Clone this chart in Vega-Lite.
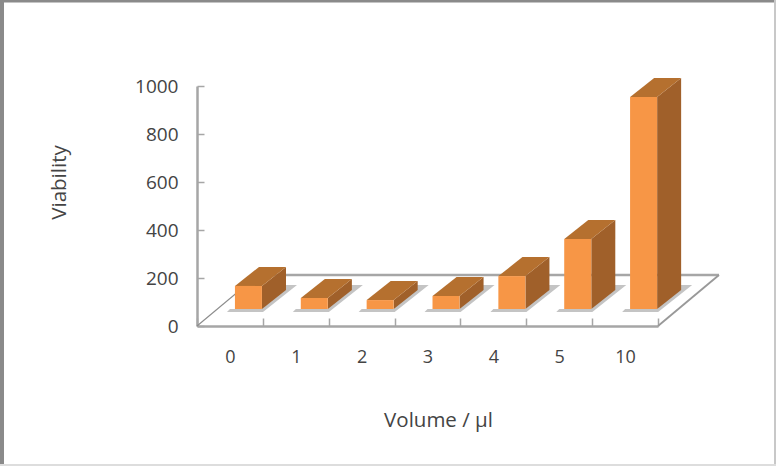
{
"$schema":"https://vega.github.io/schema/vega-lite/v6.json",
"width":461,"height":240,
"autosize":{"type":"none"},
"padding":{"left":197,"top":86,"right":118,"bottom":140},
"background":"white",
"config":{"view":{"stroke":null},"axis":{"grid":false}},
"datasets":{"bars":[
{"volume":"0","slot":0,"viability":167},
{"volume":"1","slot":1,"viability":117},
{"volume":"2","slot":2,"viability":108},
{"volume":"3","slot":3,"viability":125},
{"volume":"4","slot":4,"viability":208},
{"volume":"5","slot":5,"viability":362},
{"volume":"10","slot":6,"viability":954}
]},
"layer":[
{"data":{"values":[
{"edge":"back","slot":0.926,"level":212.5,"ord":0},
{"edge":"back","slot":7.926,"level":212.5,"ord":1},
{"edge":"right","slot":7.926,"level":212.5,"ord":0},
{"edge":"right","slot":7,"level":0,"ord":1},
{"edge":"left","slot":0.926,"level":212.5,"ord":0},
{"edge":"left","slot":0,"level":0,"ord":1}
]},
"mark":{"type":"line","clip":false},
"encoding":{
"x":{"field":"slot","type":"quantitative","scale":{"domain":[0,7],"nice":false,"zero":false},"axis":null},
"y":{"field":"level","type":"quantitative","scale":{"domain":[0,1000],"nice":false},"axis":{"title":"Viability","format":"d","titleFont":"Open Sans","titleFontSize":20.5,"titleFontWeight":"normal","titleColor":"#444444","titleX":-128,"titleY":96,"labelFont":"Open Sans","labelFontSize":19,"labelColor":"#444444","values":[0,200,400,600,800,1000],"tickSize":-7,"labelPadding":26,"tickColor":"#a6a6a6","tickWidth":1.5,"domainColor":"#a6a6a6","domainWidth":2.5,"labelFlush":false}},
"detail":{"field":"edge"},
"order":{"field":"ord","type":"quantitative"},
"size":{"field":"edge","type":"nominal","scale":{"domain":["back","right","left"],"range":[2.5,1.2,1.2]},"legend":null},
"color":{"field":"edge","type":"nominal","scale":{"domain":["back","right","left"],"range":["#a6a6a6","#999999","#8c8c8c"]},"legend":null}
}},
{"data":{"name":"bars"},
"transform":[
{"calculate":"[[-8,-3,0,0],[28,-3,0,1],[62,24,0,2],[45,24,0,3],[27,0,0,4],[-5,0,0,5],[-8,-3,0,6]]","as":"p"},
{"flatten":["p"]},
{"calculate":"datum.slot+(38+datum.p[0])/65.86","as":"xv"},
{"calculate":"70.8+datum.p[1]/0.24","as":"yv"},
{"calculate":"datum.p[3]","as":"ord"}
],
"mark":{"type":"line","fill":"#c4c4c4","stroke":null,"clip":false},
"encoding":{
"x":{"field":"xv","type":"quantitative","scale":{"domain":[0,7],"nice":false,"zero":false},"axis":null},
"y":{"field":"yv","type":"quantitative"},
"detail":{"field":"volume"},
"order":{"field":"ord","type":"quantitative"}
}},
{"data":{"name":"bars"},
"transform":[
{"calculate":"[[27,0,0,0],[51,19,0,1],[51,19,1,2],[27,0,1,3],[27,0,0,4]]","as":"p"},
{"flatten":["p"]},
{"calculate":"datum.slot+(38+datum.p[0])/65.86","as":"xv"},
{"calculate":"(datum.p[2]?datum.viability:70.8)+datum.p[1]/0.24","as":"yv"},
{"calculate":"datum.p[3]","as":"ord"}
],
"mark":{"type":"line","fill":"#a0602a","stroke":null,"clip":false},
"encoding":{
"x":{"field":"xv","type":"quantitative","scale":{"domain":[0,7],"nice":false,"zero":false},"axis":null},
"y":{"field":"yv","type":"quantitative"},
"detail":{"field":"volume"},
"order":{"field":"ord","type":"quantitative"}
}},
{"data":{"name":"bars"},
"transform":[
{"calculate":"[[0,0,1,0],[27,0,1,1],[51,19,1,2],[24,19,1,3],[0,0,1,4]]","as":"p"},
{"flatten":["p"]},
{"calculate":"datum.slot+(38+datum.p[0])/65.86","as":"xv"},
{"calculate":"datum.viability+datum.p[1]/0.24","as":"yv"},
{"calculate":"datum.p[3]","as":"ord"}
],
"mark":{"type":"line","fill":"#b5702f","stroke":null,"clip":false},
"encoding":{
"x":{"field":"xv","type":"quantitative","scale":{"domain":[0,7],"nice":false,"zero":false},"axis":null},
"y":{"field":"yv","type":"quantitative"},
"detail":{"field":"volume"},
"order":{"field":"ord","type":"quantitative"}
}},
{"data":{"name":"bars"},
"mark":{"type":"bar","width":27,"xOffset":18.5,"color":"#f79646","clip":false},
"encoding":{
"x":{"field":"volume","type":"ordinal","sort":["0","1","2","3","4","5","10"],"scale":{"type":"band","paddingInner":0,"paddingOuter":0},"axis":{"title":"Volume / µl","titleFont":"Open Sans","titleFontSize":20.5,"titleFontWeight":"normal","titleColor":"#444444","titleX":241,"titleY":84,"labelFont":"Open Sans","labelFontSize":18,"labelColor":"#444444","labelAngle":0,"tickBand":"extent","tickSize":-8,"labelPadding":30,"tickColor":"#a6a6a6","tickWidth":1.5,"domainColor":"#a6a6a6","domainWidth":2.5}},
"y":{"field":"viability","type":"quantitative"},
"y2":{"datum":70.8}
}},
{"data":{"values":[{"side":"top"}]},"mark":{"type":"rule","stroke":"#8a8a8a","strokeWidth":3,"clip":false},"encoding":{"x":{"value":-197},"x2":{"value":579},"y":{"value":-85},"y2":{"value":-85}}},
{"data":{"values":[{"side":"left"}]},"mark":{"type":"rule","stroke":"#8a8a8a","strokeWidth":4,"clip":false},"encoding":{"x":{"value":-195},"x2":{"value":-195},"y":{"value":-86},"y2":{"value":380}}},
{"data":{"values":[{"side":"right"}]},"mark":{"type":"rule","stroke":"#c8c8c8","strokeWidth":2,"clip":false},"encoding":{"x":{"value":578},"x2":{"value":578},"y":{"value":-86},"y2":{"value":380}}},
{"data":{"values":[{"side":"bottom"}]},"mark":{"type":"rule","stroke":"#dddddd","strokeWidth":2,"clip":false},"encoding":{"x":{"value":-197},"x2":{"value":579},"y":{"value":379},"y2":{"value":379}}}
],
"resolve":{"scale":{"x":"independent"}}
}
